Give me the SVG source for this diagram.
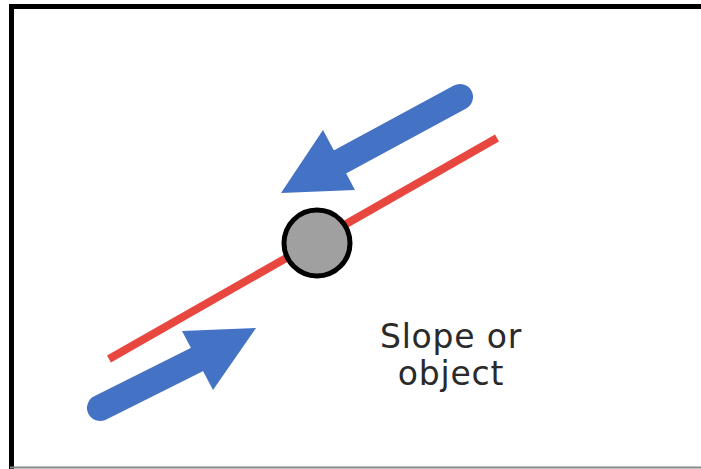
<svg xmlns="http://www.w3.org/2000/svg" width="701" height="469" viewBox="0 0 701 469">
  <style>
    .frame { stroke: #000; stroke-width: 5; fill: none; }
    .shaft { stroke: #4472c4; stroke-width: 26; stroke-linecap: round; fill: none; }
    .head { fill: #4472c4; }
    .slope { stroke: #e8473f; stroke-width: 8; }
    .obj { fill: #a0a0a0; stroke: #000; stroke-width: 5; }
    .label { font-family: "DejaVu Sans", Verdana, sans-serif; font-size: 33px; letter-spacing: 0.8px; fill: #2a2a2a; text-anchor: middle; }
  </style>
  <rect width="701" height="469" fill="#fff"/>
  <g id="frame">
    <path class="frame" d="M11.5 469 V6.5 H701"/>
    <line x1="10" y1="467.5" x2="701" y2="467.5" stroke="#888" stroke-width="2"/>
  </g>
  <g id="slope">
    <line class="slope" x1="109" y1="359" x2="497" y2="138"/>
  </g>
  <g id="connectors">
    <g id="arrow-down">
      <line class="shaft" x1="460" y1="97" x2="338" y2="163"/>
      <polygon class="head" points="281,193 323,130 355,190"/>
    </g>
    <g id="arrow-up">
      <line class="shaft" x1="100" y1="408" x2="200" y2="358"/>
      <polygon class="head" points="256,328 182,331 213,390"/>
    </g>
  </g>
  <g id="object">
    <circle class="obj" cx="317" cy="243" r="33"/>
  </g>
  <g id="label">
    <text class="label" x="451" y="348">Slope or</text>
    <text class="label" x="451" y="385">object</text>
  </g>
</svg>
